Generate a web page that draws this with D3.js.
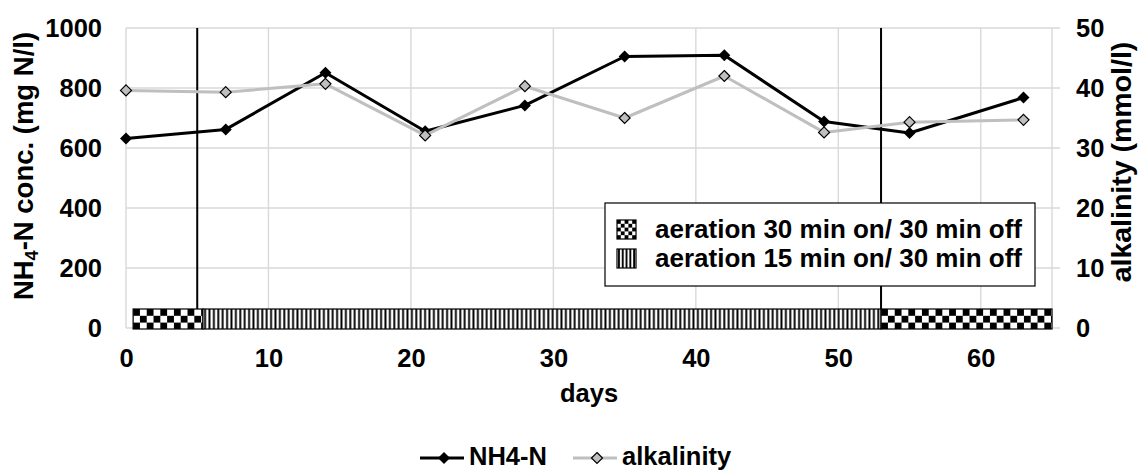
<!DOCTYPE html>
<html>
<head>
<meta charset="utf-8">
<script src="https://cdn.jsdelivr.net/npm/d3@7"></script>
<style>
html,body{margin:0;padding:0;background:#fff;}
svg{display:block;font-family:"Liberation Sans",Arial,sans-serif;font-weight:bold;}
</style>
</head>
<body>
<svg id="chart" width="1142" height="470"></svg>
<script>
// ---- data ----
const days = [0, 7, 14, 21, 28, 35, 42, 49, 55, 63];
const nh4 = [632, 662, 851, 656, 742, 905, 909, 688, 650, 768];
const alkalinity = [39.6, 39.3, 40.7, 32.1, 40.3, 35.0, 42.0, 32.6, 34.3, 34.7];
const xTicks = [0, 10, 20, 30, 40, 50, 60];
const yLeftTicks = [0, 200, 400, 600, 800, 1000];
const yRightTicks = [0, 10, 20, 30, 40, 50];
const switchDays = [5, 53];
const phaseStart = [0.5, 5.4, 53];
const phaseEnd = [5.4, 53, 65];
const phaseType = ["checker", "stripe", "checker"];
const legendLabels = ["aeration 30 min on/ 30 min off", "aeration 15 min on/ 30 min off"];
const legendTypes = ["checker", "stripe"];
const seriesNames = ["NH4-N", "alkalinity"];

// ---- layout ----
const svg = d3.select("#chart");
const L = 126, R = 1052, T = 28, B = 328;
const x = d3.scaleLinear().domain([0, 65]).range([L, R]);
const yL = d3.scaleLinear().domain([0, 1000]).range([B, T]);
const yR = d3.scaleLinear().domain([0, 50]).range([B, T]);
const FS = 25.5;
const grid = "#d9d9d9";

// patterns
const defs = svg.append("defs");
const cs = 6.8;
const chk = defs.append("pattern").attr("id", "checker").attr("patternUnits", "userSpaceOnUse")
  .attr("width", cs * 2).attr("height", cs * 2).attr("x", x(phaseStart[0])).attr("y", 309);
chk.append("rect").attr("width", cs * 2).attr("height", cs * 2).attr("fill", "#fff");
chk.append("rect").attr("width", cs).attr("height", cs).attr("fill", "#000");
chk.append("rect").attr("x", cs).attr("y", cs).attr("width", cs).attr("height", cs).attr("fill", "#000");
const sp = 4.4;
const str = defs.append("pattern").attr("id", "stripe").attr("patternUnits", "userSpaceOnUse")
  .attr("width", sp).attr("height", 10).attr("x", x(phaseStart[1]));
str.append("rect").attr("width", sp).attr("height", 10).attr("fill", "#fff");
str.append("rect").attr("x", 1.2).attr("width", 1.9).attr("height", 10).attr("fill", "#000");

// gridlines
const g = svg.append("g");
g.selectAll("line.h").data(yLeftTicks).join("line")
  .attr("x1", L).attr("x2", R + 8)
  .attr("y1", d => yL(d)).attr("y2", d => yL(d))
  .attr("stroke", grid).attr("stroke-width", 1.4);
g.selectAll("line.v").data(xTicks.concat([65])).join("line")
  .attr("x1", d => x(d)).attr("x2", d => x(d))
  .attr("y1", T).attr("y2", B)
  .attr("stroke", grid).attr("stroke-width", 1.4);

// phase bar
svg.append("g").selectAll("rect").data(phaseType).join("rect")
  .attr("x", (d, i) => x(phaseStart[i]))
  .attr("width", (d, i) => x(phaseEnd[i]) - x(phaseStart[i]))
  .attr("y", 309).attr("height", 20)
  .attr("fill", d => `url(#${d})`)
  .attr("stroke", "#000").attr("stroke-width", 1.2);

// switch lines
svg.append("g").selectAll("line").data(switchDays).join("line")
  .attr("x1", d => x(d)).attr("x2", d => x(d))
  .attr("y1", T).attr("y2", 309)
  .attr("stroke", "#000").attr("stroke-width", 2);

// axes labels
const axL = d3.axisLeft(yL).tickValues(yLeftTicks).tickFormat(d3.format("d")).tickSize(0).tickPadding(24);
const gL = svg.append("g").attr("transform", `translate(${L},0)`).call(axL);
const axR = d3.axisRight(yR).tickValues(yRightTicks).tickFormat(d3.format("d")).tickSize(0).tickPadding(24);
const gR = svg.append("g").attr("transform", `translate(${R},0)`).call(axR);
const axB = d3.axisBottom(x).tickValues(xTicks).tickSize(0).tickPadding(21);
const gB = svg.append("g").attr("transform", `translate(0,${B})`).call(axB);
[gL, gR, gB].forEach(a => {
  a.select(".domain").remove();
  a.selectAll("text").attr("font-size", FS).attr("font-weight", "bold")
    .attr("font-family", "'Liberation Sans',Arial,sans-serif").attr("fill", "#000");
});

// axis titles
svg.append("text").attr("x", 589).attr("y", 402).attr("text-anchor", "middle")
  .attr("font-size", FS).text("days");
const lt = svg.append("text").attr("transform", "translate(33,166) rotate(-90)")
  .attr("text-anchor", "middle").attr("font-size", 27.5);
lt.append("tspan").text("NH");
lt.append("tspan").attr("font-size", 18).attr("dy", 5).text("4");
lt.append("tspan").attr("dy", -5).text("-N conc. (mg N/l)");
svg.append("text").attr("transform", "translate(1131,162) rotate(-90)")
  .attr("text-anchor", "middle").attr("font-size", 28.5).text("alkalinity (mmol/l)");

// series
const diamond = r => `M0,${-r}L${r},0L0,${r}L${-r},0Z`;
const nh4Pts = days.map((d, i) => [x(d), yL(nh4[i])]);
const alkPts = days.map((d, i) => [x(d), yR(alkalinity[i])]);
svg.append("path").attr("d", d3.line()(nh4Pts)).attr("fill", "none")
  .attr("stroke", "#000").attr("stroke-width", 3).attr("stroke-linejoin", "round");
svg.append("g").selectAll("path").data(nh4Pts).join("path")
  .attr("transform", d => `translate(${d[0]},${d[1]})`).attr("d", diamond(6))
  .attr("fill", "#000");
svg.append("path").attr("d", d3.line()(alkPts)).attr("fill", "none")
  .attr("stroke", "#bfbfbf").attr("stroke-width", 3).attr("stroke-linejoin", "round");
svg.append("g").selectAll("path").data(alkPts).join("path")
  .attr("transform", d => `translate(${d[0]},${d[1]})`).attr("d", diamond(5.5))
  .attr("fill", "#bfbfbf").attr("stroke", "#000").attr("stroke-width", 1.2);

// legend box (aeration)
const lg = svg.append("g");
lg.append("rect").attr("x", 605).attr("y", 203).attr("width", 430).attr("height", 83)
  .attr("fill", "#fff").attr("stroke", "#000").attr("stroke-width", 1.2);
lg.selectAll("text").data(legendLabels).join("text")
  .attr("x", 1022).attr("text-anchor", "end")
  .attr("y", (d, i) => 238 + i * 29).attr("font-size", 26).text(d => d);
lg.selectAll("rect.sw").data(legendTypes).join("rect").attr("class", "sw")
  .attr("x", 617).attr("y", (d, i) => 220 + i * 29).attr("width", 19).attr("height", 19)
  .attr("fill", d => `url(#${d}Sw)`).attr("stroke", "#000").attr("stroke-width", 1.2);
// swatch patterns
const cs2 = 3.8;
const chk2 = defs.append("pattern").attr("id", "checkerSw").attr("patternUnits", "userSpaceOnUse")
  .attr("width", cs2 * 2).attr("height", cs2 * 2).attr("x", 617).attr("y", 220);
chk2.append("rect").attr("width", cs2 * 2).attr("height", cs2 * 2).attr("fill", "#fff");
chk2.append("rect").attr("width", cs2).attr("height", cs2).attr("fill", "#000");
chk2.append("rect").attr("x", cs2).attr("y", cs2).attr("width", cs2).attr("height", cs2).attr("fill", "#000");
const str2 = defs.append("pattern").attr("id", "stripeSw").attr("patternUnits", "userSpaceOnUse")
  .attr("width", 3.8).attr("height", 10).attr("x", 617);
str2.append("rect").attr("width", 3.8).attr("height", 10).attr("fill", "#fff");
str2.append("rect").attr("x", 1).attr("width", 1.9).attr("height", 10).attr("fill", "#000");

// bottom legend
const bl = svg.append("g");
const legX = [420, 573];
const legColor = ["#000", "#bfbfbf"];
bl.selectAll("line").data(seriesNames).join("line")
  .attr("x1", (d, i) => legX[i]).attr("x2", (d, i) => legX[i] + 44)
  .attr("y1", 458).attr("y2", 458)
  .attr("stroke", (d, i) => legColor[i]).attr("stroke-width", 3);
bl.selectAll("path").data(seriesNames).join("path")
  .attr("transform", (d, i) => `translate(${legX[i] + 24},458)`)
  .attr("d", (d, i) => diamond(i ? 5.5 : 6))
  .attr("fill", (d, i) => legColor[i]).attr("stroke", (d, i) => i ? "#000" : "none").attr("stroke-width", 1.2);
bl.selectAll("text").data(seriesNames).join("text")
  .attr("x", (d, i) => legX[i] + 49).attr("y", 465).attr("font-size", FS).text(d => d);
</script>
</body>
</html>
